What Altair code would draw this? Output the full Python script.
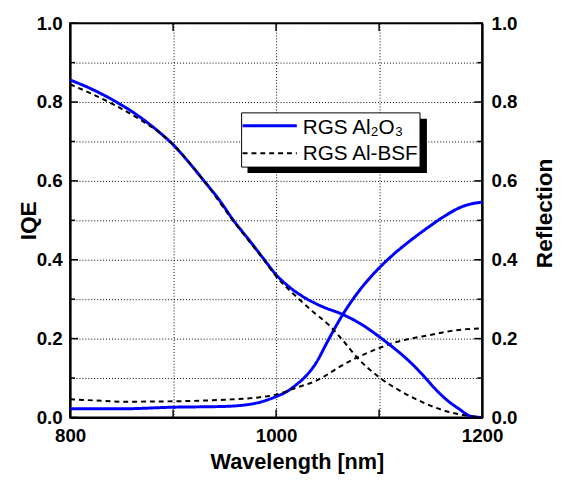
import altair as alt
import pandas as pd

# ---------------- data ----------------
SERIES = ["RGS Al₂O₃", "RGS Al-BSF"]

WL_IQE_AL2O3 = [800, 820, 845, 860, 875, 890, 900, 915, 930, 945, 958, 975, 988, 1000,
                1010, 1029, 1045, 1064, 1083, 1100, 1110, 1124, 1135, 1145, 1155, 1165,
                1178, 1189, 1200]
IQE_AL2O3 = [0.856, 0.834, 0.800, 0.776, 0.748, 0.716, 0.692, 0.648, 0.600, 0.551, 0.502,
             0.446, 0.402, 0.362, 0.337, 0.302, 0.281, 0.262, 0.236, 0.205, 0.185, 0.155,
             0.128, 0.100, 0.071, 0.046, 0.021, 0.003, 0.000]

WL_IQE_BSF = [800, 820, 845, 870, 885, 900, 930, 958, 988, 1000, 1019, 1035, 1051, 1065,
              1078, 1100, 1120, 1137, 1160, 1180, 1200]
IQE_BSF = [0.845, 0.822, 0.790, 0.752, 0.726, 0.692, 0.600, 0.500, 0.400, 0.358, 0.308,
           0.270, 0.235, 0.195, 0.154, 0.102, 0.068, 0.045, 0.020, 0.007, 0.000]

WL_REFL_AL2O3 = [800, 850, 900, 950, 980, 1000, 1010, 1019, 1030, 1038, 1051, 1064, 1076,
                 1088, 1100, 1115, 1131, 1147, 1165, 1179, 1190, 1200]
REFL_AL2O3 = [0.022, 0.022, 0.026, 0.028, 0.036, 0.053, 0.065, 0.082, 0.108, 0.135, 0.198,
              0.258, 0.305, 0.345, 0.379, 0.416, 0.450, 0.481, 0.513, 0.533, 0.542, 0.546]

WL_REFL_BSF = [800, 825, 850, 900, 950, 980, 1000, 1020, 1038, 1048, 1060, 1078, 1100,
               1115, 1131, 1147, 1169, 1185, 1200]
REFL_BSF = [0.046, 0.043, 0.040, 0.041, 0.045, 0.050, 0.058, 0.076, 0.092, 0.106, 0.126,
            0.151, 0.176, 0.190, 0.200, 0.208, 0.219, 0.224, 0.226]

X_TICKS = [800, 900, 1000, 1100, 1200]
X_LABELS = [800, 1000, 1200]
X_INNER_TICKS = [900, 1000, 1100]
Y_TICKS = [0.0, 0.1, 0.2, 0.3, 0.4, 0.5, 0.6, 0.7, 0.8, 0.9, 1.0]
Y_MAJOR = [0.0, 0.2, 0.4, 0.6, 0.8, 1.0]
Y_MINOR = [0.1, 0.3, 0.5, 0.7, 0.9]

# ---------------- layout ----------------
W, H = 418, 400
FONT = "Liberation Sans"


def long(wl, vals, series):
    return pd.DataFrame({"wl": wl, "v": vals, "series": series})


iqe_df = pd.concat([long(WL_IQE_AL2O3, IQE_AL2O3, SERIES[0]),
                    long(WL_IQE_BSF, IQE_BSF, SERIES[1])], ignore_index=True)
refl_df = pd.concat([long(WL_REFL_AL2O3, REFL_AL2O3, SERIES[0]),
                     long(WL_REFL_BSF, REFL_BSF, SERIES[1])], ignore_index=True)

x_scale = alt.Scale(domain=[800, 1200], nice=False)
y_scale = alt.Scale(domain=[0, 1], nice=False)

color = alt.Color("series:N", scale=alt.Scale(domain=SERIES, range=["#0000ff", "#000000"]), legend=None)
dash = alt.StrokeDash("series:N", scale=alt.Scale(domain=SERIES, range=[[1, 0], [5, 4]]), legend=None)
width = alt.StrokeWidth("series:N", scale=alt.Scale(domain=SERIES, range=[3, 2]), legend=None)

xlabel_expr = "indexof([" + ",".join(str(v) for v in X_LABELS) + "], datum.value) >= 0 ? datum.label : ''"
ylabel_expr = "round(datum.value * 10) % 2 == 0 ? datum.label : ''"

x_axis = alt.Axis(values=X_TICKS, labelExpr=xlabel_expr, format="d", title="Wavelength [nm]",
                  grid=True, labelPadding=9, labelFlush=False, titleX=142, titleY=52,
                  titleAlign="left", titleBaseline="alphabetic", titleFontSize=22)

iqe = alt.Chart(iqe_df).mark_line(interpolate="monotone", clip=True).encode(
    x=alt.X("wl:Q", scale=x_scale, axis=x_axis),
    y=alt.Y("v:Q", scale=y_scale, axis=alt.Axis(
        orient="left", values=Y_TICKS, labelExpr=ylabel_expr, format=".1f", title="IQE",
        grid=True, labelPadding=8, labelFlush=False, titleAngle=270, titleX=-35,
        titleY=200, titleAlign="center", titleBaseline="alphabetic")),
    color=color, strokeDash=dash, strokeWidth=width,
)

refl = alt.Chart(refl_df).mark_line(interpolate="monotone", clip=True).encode(
    x=alt.X("wl:Q", scale=x_scale, axis=x_axis),
    y=alt.Y("v:Q", scale=y_scale, axis=alt.Axis(
        orient="right", values=Y_TICKS, labelExpr=ylabel_expr, format=".1f",
        title="Reflection", grid=False, labelPadding=9, labelFlush=False, titleAngle=270,
        titleX=70, titleY=248, titleAlign="left", titleBaseline="alphabetic")),
    color=color, strokeDash=dash, strokeWidth=width,
)


def yticks(vals, x0, x1):
    return alt.Chart(pd.DataFrame({"t": vals})).mark_rule(color="black", strokeWidth=1.5).encode(
        y=alt.Y("t:Q", scale=y_scale, axis=None), x=alt.value(x0), x2=alt.value(x1))


def xticks(vals, y0, y1):
    return alt.Chart(pd.DataFrame({"wl": vals})).mark_rule(color="black", strokeWidth=1.5).encode(
        x=alt.X("wl:Q", scale=x_scale, axis=x_axis), y=alt.value(y0), y2=alt.value(y1))


ticks = [
    yticks(Y_MAJOR, 0, 8), yticks(Y_MINOR, 0, 5),
    yticks(Y_MAJOR, W - 8, W), yticks(Y_MINOR, W - 5, W),
    xticks(X_INNER_TICKS, H - 8, H), xticks(X_INNER_TICKS, 0, 8),
]

# ---------------- legend (drawn by hand, with a drop shadow) ----------------
legend_df = pd.DataFrame({"series": SERIES})
one = pd.DataFrame({"k": [0]})
shadow = alt.Chart(one).mark_rect(color="black").encode(
    x=alt.value(180), x2=alt.value(362), y=alt.value(97), y2=alt.value(152))
box = alt.Chart(one).mark_rect(fill="white", stroke="black", strokeWidth=1).encode(
    x=alt.value(174), x2=alt.value(355), y=alt.value(91), y2=alt.value(146))
leg_line_a = alt.Chart(one).mark_rule(color="#0000ff", strokeWidth=3).encode(
    x=alt.value(175), x2=alt.value(230), y=alt.value(104))
leg_line_b = alt.Chart(one).mark_rule(color="black", strokeWidth=2, strokeDash=[5, 4]).encode(
    x=alt.value(175), x2=alt.value(230), y=alt.value(132))


def leg_text(name, ypos):
    return alt.Chart(legend_df).transform_filter(alt.datum.series == name).mark_text(
        align="left", baseline="alphabetic", font=FONT, fontSize=21, color="black"
    ).encode(text="series:N", x=alt.value(236), y=alt.value(ypos))


chart = alt.layer(
    refl, iqe, *ticks, shadow, box, leg_line_a, leg_line_b,
    leg_text(SERIES[0], 112), leg_text(SERIES[1], 139),
).resolve_scale(y="independent").properties(
    width=W, height=H,
    autosize=alt.AutoSizeParams(type="none"),
    padding={"left": 63, "top": 12, "right": 78, "bottom": 57},
).configure_view(
    stroke="black", strokeWidth=2
).configure_axis(
    labelFont=FONT, labelFontSize=19, labelFontWeight="bold", labelColor="black",
    titleFont=FONT, titleFontSize=23, titleFontWeight="bold", titleColor="black",
    domainColor="black", domainWidth=2, ticks=False, tickSize=0,
    gridColor="#000000", gridDash=[1, 2], gridWidth=1,
)

chart.save("out.html", embed_options={"renderer": "svg", "actions": False})
